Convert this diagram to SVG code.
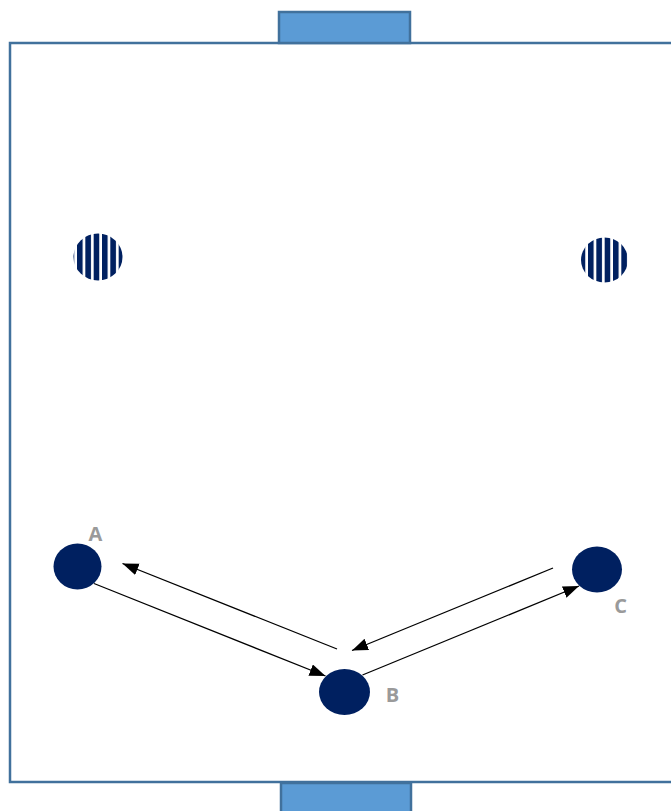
<svg xmlns="http://www.w3.org/2000/svg" width="671" height="811" viewBox="0 0 671 811">
  <style>
    .field { fill: #ffffff; stroke: #41719C; stroke-width: 2.5; }
    .goal { fill: #5B9BD5; stroke: #41719C; stroke-width: 2.5; }
    .player { fill: #002060; }
    .label { font-family: "Open Sans", "Liberation Sans", sans-serif; font-weight: bold; font-size: 20px; fill: #9A9A9A; text-anchor: middle; }
    .conn { stroke: #000000; stroke-width: 1.3; fill: none; marker-end: url(#arrow); }
  </style>
  <defs>
    <marker id="arrow" markerUnits="userSpaceOnUse" markerWidth="17" markerHeight="13" refX="16" refY="6" orient="auto">
      <path d="M0,0 L16,6 L0,12 z" fill="#000000"/>
    </marker>
    <pattern id="stripesL" patternUnits="userSpaceOnUse" x="77" y="0" width="8.33" height="10">
      <rect x="0" y="0" width="5.8" height="10" fill="#002060"/>
      <rect x="5.8" y="0" width="2.53" height="10" fill="#ffffff"/>
    </pattern>
    <pattern id="stripesR" patternUnits="userSpaceOnUse" x="588" y="0" width="8.33" height="10">
      <rect x="0" y="0" width="5.8" height="10" fill="#002060"/>
      <rect x="5.8" y="0" width="2.53" height="10" fill="#ffffff"/>
    </pattern>
  </defs>

  <rect id="field" class="field" x="10" y="43" width="675" height="739"/>
  <g id="goal-top"><rect class="goal" x="279" y="12" width="131" height="31"/></g>
  <g id="goal-bottom"><rect class="goal" x="281" y="783" width="130" height="40"/></g>

  <g id="cone-left"><ellipse cx="98" cy="257" rx="24.5" ry="23.5" fill="url(#stripesL)"/></g>
  <g id="cone-right"><ellipse cx="604.5" cy="260" rx="23.5" ry="22.5" fill="url(#stripesR)"/></g>

  <g id="connectors">
    <line class="conn" x1="94" y1="583.5" x2="325.5" y2="676"/>
    <line class="conn" x1="337" y1="649" x2="122.5" y2="563.5"/>
    <line class="conn" x1="553" y1="568" x2="352" y2="650.5"/>
    <line class="conn" x1="362.5" y1="675" x2="579" y2="586"/>
  </g>

  <g id="node-A">
    <ellipse class="player" cx="77.5" cy="566.5" rx="24" ry="23"/>
    <text class="label" x="95.5" y="541">A</text>
  </g>
  <g id="node-B">
    <ellipse class="player" cx="344.5" cy="692" rx="25.5" ry="23"/>
    <text class="label" x="392.5" y="701.5">B</text>
  </g>
  <g id="node-C">
    <ellipse class="player" cx="597" cy="569.5" rx="25" ry="23"/>
    <text class="label" x="620.5" y="613">C</text>
  </g>
</svg>
